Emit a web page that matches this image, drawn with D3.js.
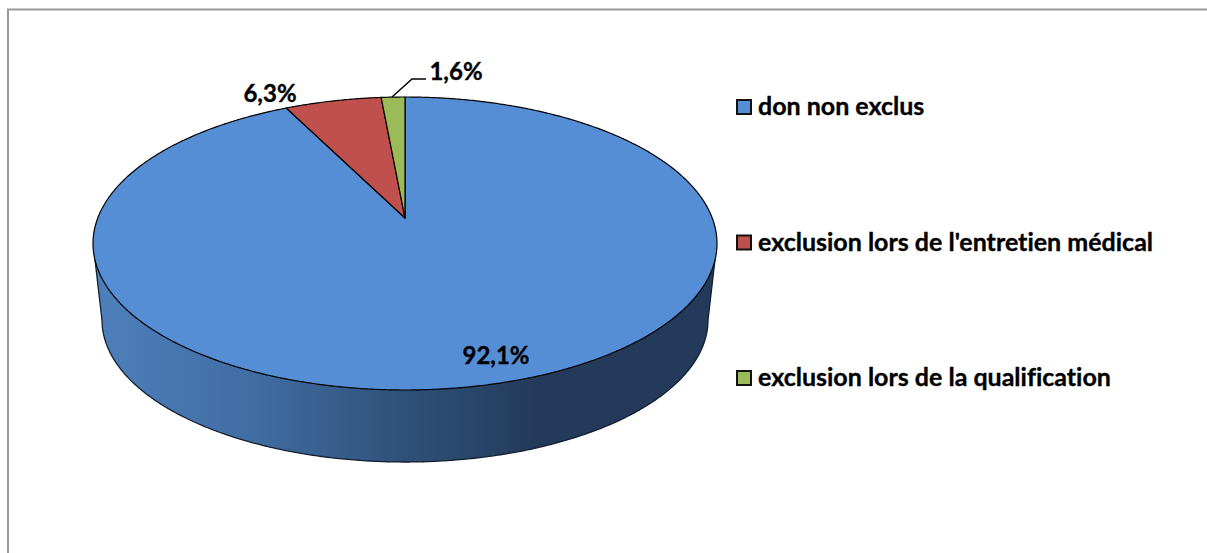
<!DOCTYPE html>
<html><head><meta charset="utf-8">
<script src="https://cdnjs.cloudflare.com/ajax/libs/d3/7.8.5/d3.min.js"></script>
<style>html,body{margin:0;background:#fff}svg{display:block}text{font-family:Lato,"Open Sans",sans-serif;font-weight:700;fill:#000;stroke:#000;stroke-width:.35px;font-variant-ligatures:none}</style>
</head><body><svg id="c" width="1207" height="553"></svg>
<script>
const categories=["don non exclus","exclusion lors de l'entretien médical","exclusion lors de la qualification"];
const values=[92.1,6.3,1.6];
const labels=["92,1%","6,3%","1,6%"];
const colors=["#558ed5","#c0504d","#9bbb59"];
const svg=d3.select("#c");
const defs=svg.append("defs");
const g=defs.append("linearGradient").attr("id","wall").attr("gradientUnits","userSpaceOnUse").attr("x1",100).attr("x2",540).attr("y1",0).attr("y2",0);
[[0,"#4d7fba"],[.35,"#406da2"],[.7,"#2f5078"],[1,"#233a5a"]].forEach(s=>g.append("stop").attr("offset",s[0]).attr("stop-color",s[1]));
svg.append("path").attr("d","M1207,9.5H8V553").attr("fill","none").attr("stroke","#999").attr("stroke-width",2);
const cx=405,topE={cy:243.5,rx:312,ry:146.5},botE={cy:320,rx:303,ry:142},tip=[405,218];
const k=.76;
const warp=a=>Math.atan2(k*Math.sin(a),Math.cos(a));
const pt=(e,t)=>[cx+e.rx*Math.sin(t),e.cy-e.ry*Math.cos(t)];
const line=d3.line().curve(d3.curveLinear);
// wall
const botPts=d3.range(Math.PI/2,3*Math.PI/2+.001,.01).map(t=>pt(botE,t));
const w2=[pt(topE,Math.PI/2+.115),...botPts,pt(topE,3*Math.PI/2-.115)];
svg.append("path").attr("d",line(w2)+"Z").attr("fill","url(#wall)").attr("stroke","#141f30").attr("stroke-width",1.3);
// top
const pie=d3.pie().sort(null).startAngle(0).endAngle(2*Math.PI)(values);
pie.forEach((p,i)=>{
 const a0=p.startAngle,a1=p.endAngle;
 const n=Math.max(4,Math.round((a1-a0)*120));
 const pts=d3.range(n+1).map(j=>pt(topE,warp(a0+(a1-a0)*j/n)));
 svg.append("path").attr("d",line([tip,...pts])+"Z").attr("fill",colors[i]).attr("stroke","#000").attr("stroke-width",1.2).attr("stroke-linejoin","round");
});
// leader
svg.append("path").attr("d",line([[392,97],[412,79],[426,79]])).attr("fill","none").attr("stroke","#000").attr("stroke-width",1.5);
// labels
const lp=[[496,356],[270,94],[456,72]];
labels.forEach((l,i)=>svg.append("text").attr("x",lp[i][0]).attr("y",lp[i][1]+8).attr("text-anchor","middle").attr("font-size",24).text(l));
// legend
const ly=d3.scalePoint().domain(categories).range([107,378]);
const lg=svg.selectAll("g.l").data(categories).join("g").attr("class","l").attr("transform",d=>`translate(737,${ly(d)})`);
lg.append("rect").attr("x",0).attr("y",-7).attr("width",14).attr("height",14).attr("fill",(d,i)=>colors[i]).attr("stroke","#111").attr("stroke-width",2);
lg.append("text").attr("x",21).attr("y",8).attr("font-size",25).text(d=>d);
</script></body></html>
